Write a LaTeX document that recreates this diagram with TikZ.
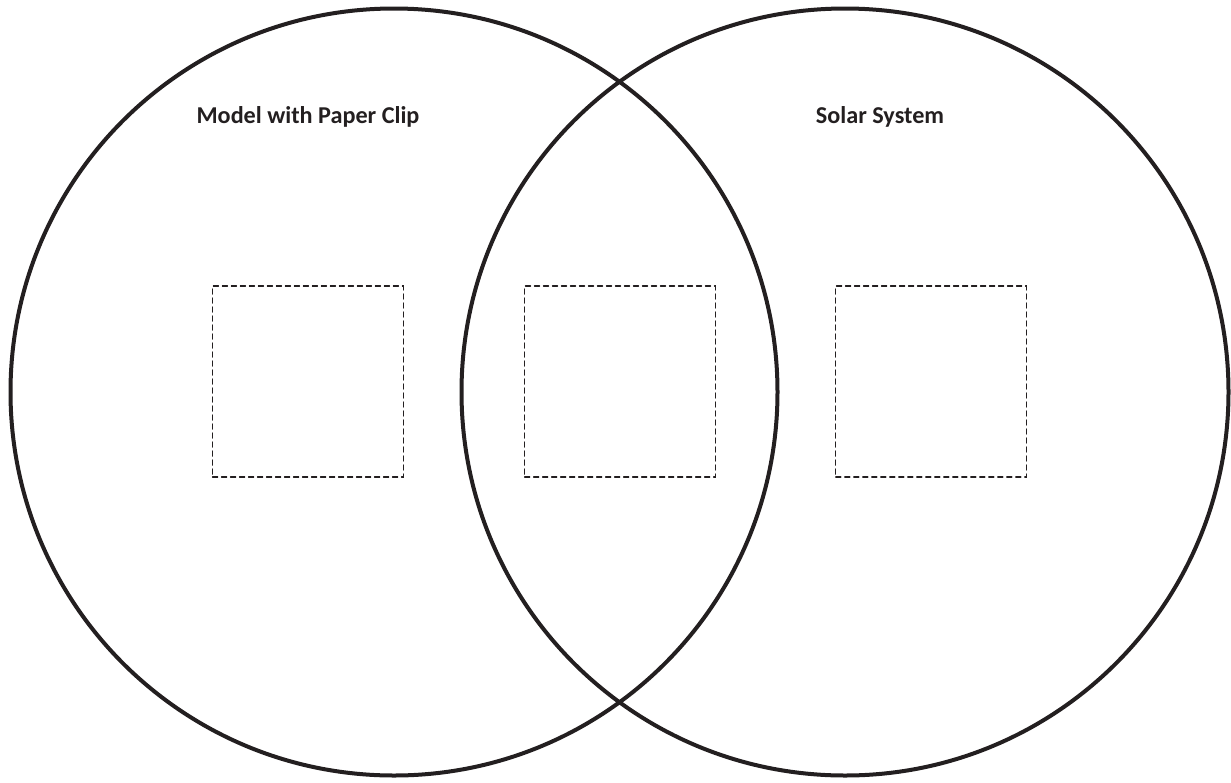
\documentclass[tikz,border=0pt]{standalone}
\usepackage{fontspec}
\setmainfont{Carlito}
\usepackage{tikz}
\usetikzlibrary{positioning}
\usepackage{xcolor}
\definecolor{tinta}{HTML}{231F20}

\begin{document}
\begin{tikzpicture}[
    x=0.5pt,y=-0.5pt,line cap=round,
    ring/.style={circle,draw=tinta,line width=2pt,
                 minimum size=383.5pt,inner sep=0pt},
    slot/.style={draw=tinta,line width=0.55pt,dash pattern=on 2.6pt off 1.9pt,
                 minimum size=95.5pt,inner sep=0pt},
    heading/.style={tinta,font=\fontsize{12.1}{14}\selectfont\bfseries,
                    inner sep=0pt}]
  \useasboundingbox (0,0) rectangle (1231,782);
  % --- los dos conjuntos
  \node[ring] (model) at (394,392) {};
  \node[ring] (solar) at (845,392) {};
  % --- titulos
  \node[heading] (tmodel) at (308,117) {Model with Paper Clip};
  \node[heading] (tsolar) at (880,117) {Solar System};
  % --- casillas vacias
  \node[slot] (smodel) at (308,381.5) {};
  \node[slot,right=60pt of smodel] (sboth) {};
  \node[slot,right=59.5pt of sboth] (ssolar) {};
\end{tikzpicture}
\end{document}
